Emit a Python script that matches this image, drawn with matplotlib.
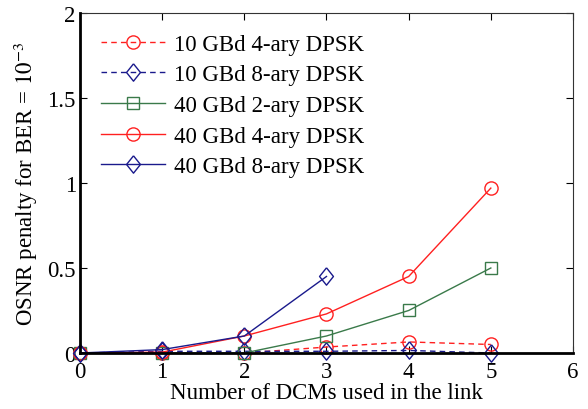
import matplotlib
matplotlib.use("Agg")
import matplotlib.pyplot as plt

plt.rcParams['font.family'] = ['Liberation Serif', 'DejaVu Serif']
plt.rcParams['mathtext.fontset'] = 'stix'

dcms = [0, 1, 2, 3, 4, 5]
dcms_short = [0, 1, 2, 3]

gbd10_4ary = [0.0, 0.0, 0.0, 0.035, 0.065, 0.05]
gbd10_8ary = [0.0, 0.01, 0.01, 0.01, 0.015, 0.0]
gbd40_2ary = [0.0, 0.0, 0.0, 0.1, 0.25, 0.5]
gbd40_4ary = [0.0, 0.005, 0.1, 0.23, 0.45, 0.97]
gbd40_8ary = [0.0, 0.02, 0.1, 0.45]

labels = ["10 GBd 4-ary DPSK", "10 GBd 8-ary DPSK", "40 GBd 2-ary DPSK",
          "40 GBd 4-ary DPSK", "40 GBd 8-ary DPSK"]

red = '#ff2020'
navy = '#1a1a8c'
green = '#3a7a4a'

fs = 16.5

# tall open diamond
diamond = [(0, 1), (0.8, 0), (0, -1), (-0.8, 0), (0, 1)]

fig = plt.figure(figsize=(5.88, 4.10), dpi=100)
ax = fig.add_axes([0.136, 0.1366, 0.8385, 0.8293])

ms = 9.5
dms = 12.5
dash = (4, 3)
ax.plot(dcms, gbd10_4ary, '--', marker='o', color=red, mfc='none', ms=ms, lw=1, mew=1,
        dashes=dash, label=labels[0])
ax.plot(dcms, gbd10_8ary, '--', marker=diamond, color=navy, mfc='none', ms=dms, lw=1, mew=1,
        dashes=dash, label=labels[1])
ax.plot(dcms, gbd40_2ary, '-', marker='s', color=green, mfc='none', ms=ms * 0.85, lw=1, mew=1,
        label=labels[2])
ax.plot(dcms, gbd40_4ary, '-', marker='o', color=red, mfc='none', ms=ms, lw=1, mew=1,
        label=labels[3])
ax.plot(dcms_short, gbd40_8ary, '-', marker=diamond, color=navy, mfc='none', ms=dms, lw=1, mew=1,
        label=labels[4])

ax.set_xlim(0, 6)
ax.set_ylim(0, 2)
ax.set_xticks([0, 1, 2, 3, 4, 5, 6])
ax.set_yticks([0, 0.5, 1, 1.5, 2])
ax.set_yticklabels(['0', '0.5', '1', '1.5', '2'])
ax.tick_params(direction='in', top=True, right=True, labelsize=fs, length=5)
ax.tick_params(axis='x', pad=6)
ax.tick_params(axis='y', pad=3)

for side in ['top', 'right']:
    ax.spines[side].set_color('#333333')
    ax.spines[side].set_linewidth(0.8)
for side in ['left', 'bottom']:
    ax.spines[side].set_linewidth(2)
    ax.spines[side].set_zorder(5)

for line in ax.lines:
    line.set_clip_on(False)

ax.set_xlabel('Number of DCMs used in the link', fontsize=fs, labelpad=0)
ax.set_ylabel(r'OSNR penalty for BER = $10^{-3}$', fontsize=fs, labelpad=5)

ax.legend(loc='upper left', frameon=False, fontsize=fs, handlelength=2.8,
          borderaxespad=0.5, labelspacing=0.42, handletextpad=0.4)

fig.savefig('out.png', dpi=100)
